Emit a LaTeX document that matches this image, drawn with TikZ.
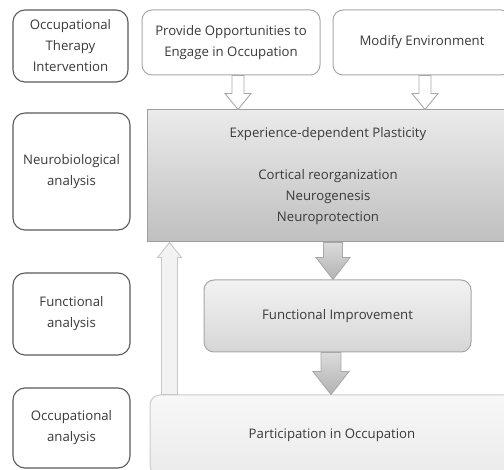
\documentclass[tikz,border=0pt]{standalone}
\usepackage{fontspec}
\setmainfont{Open Sans}
\usepackage{tikz}
\usetikzlibrary{calc}

\definecolor{txtgray}{HTML}{3A3A3A}
\definecolor{darkedge}{HTML}{5A5A5A}
\definecolor{lightedge}{HTML}{A8A8A8}

\tikzset{
  every node/.style={text=txtgray,align=center,font=\fontsize{13.2}{21}\selectfont,inner sep=0pt},
  levelbox/.style={draw=darkedge,line width=1.1pt,rounded corners=12pt,fill=white},
  actbox/.style={draw=lightedge,line width=1pt,rounded corners=10pt,fill=white},
  openarr/.style={draw=lightedge,line width=0.9pt,fill=white},
  solidarr/.style={draw=lightedge,line width=0.9pt,top color=black!14,bottom color=black!30},
  backarr/.style={draw=black!22,line width=0.9pt,fill=black!5}
}

% #1 style, #2 foot, #3 target, #4 half shaft, #5 half head, #6 head length (signed)
\newcommand{\blockarrow}[6]{%
  \path[#1] let \p1=(#2), \p2=(#3) in
    (\x1-#4,\y1) -- (\x1-#4,\y2+#6) -- (\x1-#5,\y2+#6) -- (\x1,\y2)
    -- (\x1+#5,\y2+#6) -- (\x1+#4,\y2+#6) -- (\x1+#4,\y1) -- cycle;}

\begin{document}
\begin{tikzpicture}[x=1pt,y=-1pt]
\useasboundingbox (0,0) rectangle (504,470);
\clip (0,0) rectangle (504,470);

% level labels
\node[levelbox,minimum width=115pt,minimum height=72pt] (oti) at (70.5,46) {Occupational\\Therapy\\Intervention};
\node[levelbox,minimum width=117pt,minimum height=117pt] (neuro) at (71.5,171.5) {Neurobiological\\analysis};
\node[levelbox,minimum width=117pt,minimum height=82pt] (funca) at (71.5,314) {Functional\\analysis};
\node[levelbox,minimum width=117pt,minimum height=80pt] (occa) at (71.5,428) {Occupational\\analysis};

% intervention boxes
\node[actbox,minimum width=178pt,minimum height=65pt] (prov) at (231,42.5) {Provide Opportunities to\\Engage in Occupation};
\node[actbox,minimum width=178pt,minimum height=65pt] (modif) at (422,42.5) {Modify Environment};

% outcome boxes
\node[draw=black!38,line width=1pt,top color=black!8,bottom color=black!25,minimum width=362pt,minimum height=132pt] (plast) at (328,176)
  {Experience-dependent Plasticity\\[21pt]Cortical reorganization\\Neurogenesis\\Neuroprotection};
\node[draw=black!35,line width=1pt,rounded corners=10pt,top color=black!5,bottom color=black!16,minimum width=267pt,minimum height=72pt] (func) at (337.5,316) {Functional Improvement};
\node[draw=black!20,line width=1pt,rounded corners=10pt,top color=black!3,bottom color=black!8,minimum width=364pt,minimum height=80pt] (part) at (332,435) {Participation in Occupation};

% arrows
\blockarrow{openarr}{[xshift=7pt]prov.south}{plast.north}{6pt}{13pt}{16pt}
\blockarrow{openarr}{[xshift=3pt]modif.south}{plast.north}{6pt}{13pt}{16pt}
\blockarrow{solidarr}{[xshift=5pt]plast.south}{func.north}{9.5pt}{17pt}{22pt}
\blockarrow{solidarr}{[xshift=-6.5pt]func.south}{part.north}{10pt}{18pt}{23pt}
\blockarrow{backarr}{[xshift=20pt]part.north west}{plast.south}{8pt}{12pt}{-15pt}

\end{tikzpicture}
\end{document}
